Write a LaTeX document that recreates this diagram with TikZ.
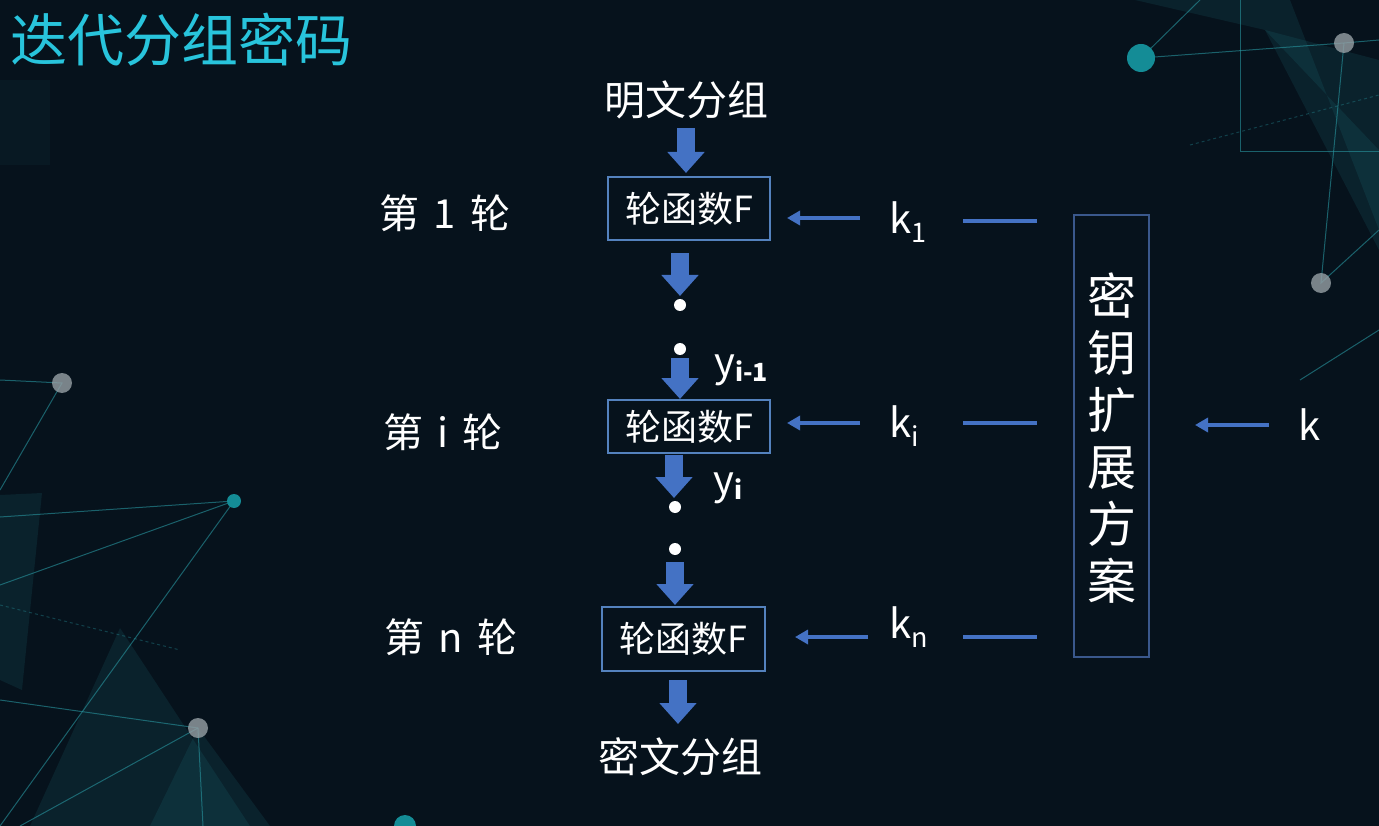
\documentclass[tikz,border=0pt]{standalone}
\usepackage{fontspec}
\setmainfont{Noto Sans CJK SC}
\usetikzlibrary{arrows.meta}
\definecolor{bgc}{RGB}{6,18,28}
\definecolor{arrowblue}{RGB}{68,114,196}
\definecolor{boxblue}{RGB}{84,130,190}
\definecolor{tallblue}{RGB}{58,88,140}
\definecolor{titlecyan}{RGB}{40,196,220}
\definecolor{netteal}{RGB}{40,150,160}
\definecolor{dotgray}{RGB}{150,160,165}
\definecolor{dotteal}{RGB}{20,140,150}
\newcommand{\fs}[1]{\fontsize{#1}{#1}\selectfont}
\newcommand{\ksub}[1]{\raisebox{-9pt}{\fs{27}#1}}
\newcommand{\ysub}[1]{\raisebox{-5pt}{\fs{25}\bfseries #1}}
\tikzset{
  barrow/.style={draw=arrowblue, line width=18pt, -{Triangle[width=36pt,length=21pt]}},
  tarrow/.style={draw=arrowblue, line width=4pt, -{Triangle[width=14pt,length=13pt]}},
  tline/.style={draw=arrowblue, line width=4pt},
  fbox/.style={draw=boxblue, line width=1.6pt, inner sep=0pt, text=white, font=\fs{36}},
  lbl/.style={text=white, inner sep=0pt, font=\fs{41}},
  rlbl/.style={text=white, inner sep=0pt, font=\fs{40}},
  sym/.style={text=white, inner sep=0pt, font=\fs{40}},
  wdot/.style={fill=white, circle, inner sep=0pt, minimum size=12pt},
  net/.style={draw=netteal, line width=1pt, opacity=0.6},
  gdot/.style={fill=dotgray, circle, inner sep=0pt, opacity=0.8},
  tdot/.style={fill=dotteal, circle, inner sep=0pt},
  shard/.style={fill=netteal, opacity=0.12}
}
\begin{document}
\begin{tikzpicture}[x=1pt,y=-1pt]
\useasboundingbox (0,0) rectangle (1379,826);
\fill[bgc] (0,0) rectangle (1379,826);
% background decoration
\fill[shard] (1135,0) -- (1290,0) -- (1379,230) -- (1379,150) -- (1265,30) -- cycle;
\fill[shard] (1265,30) -- (1379,60) -- (1379,250) -- cycle;
\fill[shard] (0,495) -- (42,493) -- (22,690) -- (0,680) -- cycle;
\fill[shard] (120,628) -- (250,826) -- (30,826) -- cycle;
\fill[shard] (198,728) -- (270,826) -- (150,826) -- cycle;
\fill[shard, opacity=0.06] (0,80) -- (50,80) -- (50,165) -- (0,165) -- cycle;
\draw[net] (1141,58) -- (1200,0);
\draw[net] (1141,58) -- (1344,43) -- (1379,40);
\draw[net] (1344,43) -- (1321,283) -- (1379,230);
\draw[net] (1240,0) -- (1240,152) -- (1379,152);
\draw[net] (1300,380) -- (1379,330);
\draw[net, dashed, opacity=0.35] (1190,145) -- (1379,95);
\draw[net] (0,380) -- (62,383) -- (0,490);
\draw[net] (234,501) -- (0,517);
\draw[net] (234,501) -- (0,585);
\draw[net] (234,501) -- (0,826);
\draw[net] (198,728) -- (0,700);
\draw[net] (198,728) -- (20,826);
\draw[net] (198,728) -- (203,826);
\draw[net, dashed, opacity=0.35] (0,605) -- (180,650);
\node[tdot, minimum size=28pt] (n1) at (1141,58) {};
\node[gdot, minimum size=20pt] (n2) at (1344,43) {};
\node[gdot, minimum size=20pt] (n3) at (1321,283) {};
\node[gdot, minimum size=20pt] (n4) at (62,383) {};
\node[tdot, minimum size=14pt] (n5) at (234,501) {};
\node[gdot, minimum size=20pt] (n6) at (198,728) {};
\node[tdot, minimum size=22pt] (n7) at (405,826) {};
% title
\node[anchor=west, text=titlecyan, inner sep=0pt, font=\fs{57}] (title) at (10,40) {迭代分组密码};
% main flow
\node[lbl] (pt) at (686,100) {明文分组};
\node[fbox, minimum width=162pt, minimum height=63pt] (box1) at (689,208.5) {轮函数F};
\node[fbox, minimum width=162pt, minimum height=53pt] (box2) at (689,426.5) {轮函数F};
\node[fbox, minimum width=163pt, minimum height=64pt] (box3) at (683.5,639) {轮函数F};
\node[lbl] (ct) at (680,757) {密文分组};
\node[rlbl] (r1) at (445,213) {第\hspace{0.35em}1\hspace{0.35em}轮};
\node[rlbl] (ri) at (443,432) {第\hspace{0.35em}i\hspace{0.35em}轮};
\node[rlbl] (rn) at (451,637) {第\hspace{0.35em}n\hspace{0.35em}轮};
\node[wdot] (d1) at (680,305) {};
\node[wdot] (d2) at (680,349) {};
\node[wdot] (d3) at (675,507) {};
\node[wdot] (d4) at (675,549) {};
\node[sym, anchor=base west] (yim) at (714,377) {y\ysub{i-1}};
\node[sym, anchor=base west] (yi) at (713,494) {y\ysub{i}};
% block arrows
\coordinate (a1s) at (686,128); \coordinate (a1e) at (686,173);
\coordinate (a2s) at (680,253); \coordinate (a2e) at (680,296);
\coordinate (a3s) at (680,358); \coordinate (a3e) at (680,399);
\coordinate (a4s) at (674,455); \coordinate (a4e) at (674,498);
\coordinate (a5s) at (675,562); \coordinate (a5e) at (675,605);
\coordinate (a6s) at (678,680); \coordinate (a6e) at (678,724);
\draw[barrow] (a1s) -- (a1e);
\draw[barrow] (a2s) -- (a2e);
\draw[barrow] (a3s) -- (a3e);
\draw[barrow] (a4s) -- (a4e);
\draw[barrow] (a5s) -- (a5e);
\draw[barrow] (a6s) -- (a6e);
% keys
\node[sym, anchor=base west] (k1) at (889,234) {k\ksub{1}};
\node[sym, anchor=base west] (ki) at (889,437) {k\ksub{i}};
\node[sym, anchor=base west] (kn) at (889,638) {k\ksub{n}};
\node[sym, anchor=base] (k) at (1310,440) {k};
\coordinate (t1s) at (860,218); \coordinate (t1e) at (787,218);
\coordinate (t2s) at (860,423); \coordinate (t2e) at (787,423);
\coordinate (t3s) at (868,637); \coordinate (t3e) at (795,637);
\coordinate (tks) at (1269,425); \coordinate (tke) at (1195,425);
\draw[tarrow] (t1s) -- (t1e);
\draw[tarrow] (t2s) -- (t2e);
\draw[tarrow] (t3s) -- (t3e);
\draw[tarrow] (tks) -- (tke);
\coordinate (l1s) at (963,221); \coordinate (l1e) at (1037,221);
\coordinate (l2s) at (963,423); \coordinate (l2e) at (1037,423);
\coordinate (l3s) at (963,637); \coordinate (l3e) at (1037,637);
\draw[tline] (l1s) -- (l1e);
\draw[tline] (l2s) -- (l2e);
\draw[tline] (l3s) -- (l3e);
% key schedule box
\node[draw=tallblue, line width=1.6pt, minimum width=75pt, minimum height=442pt, inner sep=0pt] (ks) at (1111.5,436) {};
\node[text=white, inner sep=0pt, font=\fontsize{49}{57}\selectfont, align=center] (kst) at (1111.5,438) {密\\钥\\扩\\展\\方\\案};
\end{tikzpicture}
\end{document}
